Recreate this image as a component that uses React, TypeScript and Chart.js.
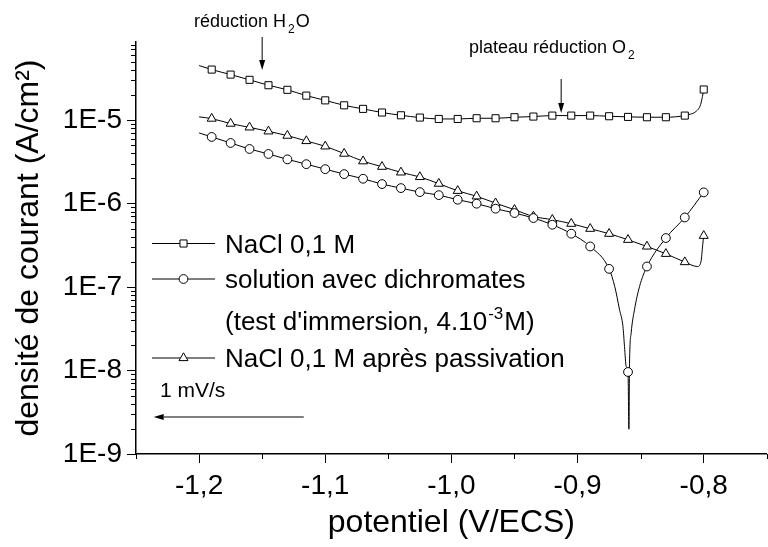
import React, { useEffect, useRef } from "react";
import { Chart, registerables } from "chart.js";

Chart.register(...registerables);

const FONT = "'Liberation Sans', Arial, Helvetica, sans-serif";

// ---- axes ----
const X_MIN = -1.25;
const X_MAX = -0.75;
const xMajorTicks = [-1.2, -1.1, -1.0, -0.9, -0.8];
const xMinorTicks = [-1.25, -1.15, -1.05, -0.95, -0.85, -0.75];
const Y_MIN = 1e-9;
const Y_MAX = 8.6e-5;
const yDecadeTicks = [1e-9, 1e-8, 1e-7, 1e-6, 1e-5];
const yMinorMultipliers = [2, 3, 4, 5, 6, 7, 8, 9];

const xTitle = "potentiel (V/ECS)";
const yTitle = "densité de courant (A/cm²)";

// ---- series ----
const seriesLabels = [
  "NaCl 0,1 M",
  "solution avec dichromates",
  "NaCl 0,1 M après passivation",
];

// markers are shown every 15 mV, from -1.19 V to -0.80 V
const MARKER_STEP = 0.015;
const MARKER_ORIGIN = -0.8;
const MARKER_FIRST = -1.19;

const naclE = [
  -1.2, -1.19, -1.175, -1.16, -1.145, -1.13, -1.115, -1.1, -1.085, -1.07,
  -1.055, -1.04, -1.025, -1.01, -0.995, -0.98, -0.965, -0.95, -0.935, -0.92,
  -0.905, -0.89, -0.875, -0.86, -0.845, -0.83, -0.815, -0.812, -0.806, -0.8025,
  -0.801, -0.8,
];
const naclI = [
  4.49e-5, 4.02e-5, 3.5e-5, 3.03e-5, 2.61e-5, 2.3e-5, 1.96e-5, 1.72e-5, 1.5e-5,
  1.36e-5, 1.23e-5, 1.14e-5, 1.07e-5, 1.03e-5, 1.03e-5, 1.05e-5, 1.05e-5,
  1.08e-5, 1.1e-5, 1.13e-5, 1.13e-5, 1.13e-5, 1.11e-5, 1.09e-5, 1.08e-5,
  1.08e-5, 1.13e-5, 1.16e-5, 1.27e-5, 1.53e-5, 1.92e-5, 2.32e-5,
];

const dichroE = [
  -1.2, -1.19, -1.175, -1.16, -1.145, -1.13, -1.115, -1.1, -1.085, -1.07,
  -1.055, -1.04, -1.025, -1.01, -0.995, -0.98, -0.965, -0.95, -0.935, -0.92,
  -0.905, -0.89, -0.875, -0.8705, -0.8667, -0.864, -0.8628, -0.8614, -0.86,
  -0.8593, -0.8588, -0.8575, -0.8549, -0.8509, -0.845, -0.83, -0.815, -0.8,
];
const dichroI = [
  7.0e-6, 6.27e-6, 5.31e-6, 4.5e-6, 3.92e-6, 3.38e-6, 2.96e-6, 2.58e-6, 2.25e-6,
  1.98e-6, 1.71e-6, 1.53e-6, 1.37e-6, 1.26e-6, 1.11e-6, 9.95e-7, 8.67e-7,
  7.69e-7, 6.7e-7, 5.57e-7, 4.35e-7, 3.06e-7, 1.65e-7, 1.01e-7, 5.33e-8,
  3.36e-8, 1.94e-8, 1.11e-8, 9.6e-9, 1.98e-9, 1.22e-8, 2.82e-8, 5.33e-8,
  1.01e-7, 1.76e-7, 3.86e-7, 6.81e-7, 1.36e-6,
];

const passE = [
  -1.2, -1.19, -1.175, -1.16, -1.145, -1.13, -1.115, -1.1, -1.085, -1.07,
  -1.055, -1.04, -1.025, -1.01, -0.995, -0.98, -0.965, -0.95, -0.935, -0.92,
  -0.905, -0.89, -0.875, -0.86, -0.845, -0.83, -0.815, -0.805, -0.8022,
  -0.8008, -0.8,
];
const passI = [
  1.09e-5, 1.04e-5, 9.06e-6, 8.17e-6, 7.32e-6, 6.5e-6, 5.61e-6, 4.84e-6,
  3.96e-6, 3.21e-6, 2.76e-6, 2.36e-6, 2.08e-6, 1.73e-6, 1.42e-6, 1.22e-6,
  1.01e-6, 8.43e-7, 7.0e-7, 6.4e-7, 5.73e-7, 4.99e-7, 4.35e-7, 3.68e-7,
  3.06e-7, 2.5e-7, 1.99e-7, 1.76e-7, 2.0e-7, 3.21e-7, 4.11e-7,
];

function isMarker(e: number): boolean {
  if (e < MARKER_FIRST - 1e-6) return false;
  const k = (e - MARKER_ORIGIN) / MARKER_STEP;
  return Math.abs(k - Math.round(k)) < 0.01;
}

function toPoints(E: number[], I: number[]) {
  return E.map((e, i) => ({ x: e, y: I[i] }));
}

type Style = "rect" | "circle" | "triangle";
const RADIUS: Record<Style, number> = { rect: 5, circle: 4.4, triangle: 5.2 };

function drawMarker(ctx: CanvasRenderingContext2D, style: Style, x: number, y: number) {
  const r = RADIUS[style];
  ctx.beginPath();
  if (style === "rect") {
    const s = Math.SQRT1_2 * r;
    ctx.rect(x - s, y - s, 2 * s, 2 * s);
  } else if (style === "circle") {
    ctx.arc(x, y, r, 0, Math.PI * 2);
  } else {
    const h = r * Math.sin(Math.PI / 3);
    ctx.moveTo(x, y - r);
    ctx.lineTo(x + h, y + r / 2);
    ctx.lineTo(x - h, y + r / 2);
    ctx.closePath();
  }
  ctx.fillStyle = "#fff";
  ctx.fill();
  ctx.strokeStyle = "#000";
  ctx.lineWidth = 1;
  ctx.stroke();
}

function drawArrow(
  ctx: CanvasRenderingContext2D,
  x1: number, y1: number, x2: number, y2: number,
  len = 10, half = 3
) {
  const a = Math.atan2(y2 - y1, x2 - x1);
  const c = Math.cos(a), s = Math.sin(a);
  const bx = x2 - len * c, by = y2 - len * s;
  ctx.beginPath();
  ctx.moveTo(x1, y1);
  ctx.lineTo(bx, by);
  ctx.strokeStyle = "#000";
  ctx.lineWidth = 1;
  ctx.stroke();
  ctx.beginPath();
  ctx.moveTo(x2, y2);
  ctx.lineTo(bx - half * s, by + half * c);
  ctx.lineTo(bx + half * s, by - half * c);
  ctx.closePath();
  ctx.fillStyle = "#000";
  ctx.fill();
}

type Part = { t: string; size: number; dy?: number; gap?: number };
function drawRich(ctx: CanvasRenderingContext2D, parts: Part[], x: number, y: number) {
  let cx = x;
  ctx.fillStyle = "#000";
  ctx.textBaseline = "alphabetic";
  ctx.textAlign = "left";
  for (const p of parts) {
    cx += p.gap || 0;
    ctx.font = `${p.size}px ${FONT}`;
    ctx.fillText(p.t, cx, y + (p.dy || 0));
    cx += ctx.measureText(p.t).width;
  }
}

const overlayPlugin = {
  id: "overlay",
  afterDraw(chart: any) {
    const ctx: CanvasRenderingContext2D = chart.ctx;
    const xs = chart.scales.x;
    const ys = chart.scales.y;
    const area = chart.chartArea;
    ctx.save();

    // minor ticks
    ctx.strokeStyle = "#000";
    ctx.lineWidth = 1;
    ctx.beginPath();
    for (const v of xMinorTicks) {
      const px = Math.round(xs.getPixelForValue(v)) + 0.5;
      ctx.moveTo(px, area.bottom);
      ctx.lineTo(px, area.bottom + 5);
    }
    for (const d of yDecadeTicks) {
      for (const m of yMinorMultipliers) {
        const v = d * m;
        if (v > Y_MAX) continue;
        const py = Math.round(ys.getPixelForValue(v)) + 0.5;
        ctx.moveTo(area.left - 5, py);
        ctx.lineTo(area.left, py);
      }
    }
    ctx.stroke();

    // annotations
    drawRich(ctx, [
      { t: "réduction H", size: 18 },
      { t: "2", size: 12, dy: 6, gap: 2 },
      { t: "O", size: 18, gap: 1 },
    ], 194, 27);
    const ax1 = xs.getPixelForValue(-1.15);
    drawArrow(ctx, ax1, 37, ax1, 70);

    drawRich(ctx, [
      { t: "plateau réduction O", size: 18 },
      { t: "2", size: 12, dy: 6, gap: 2 },
    ], 469, 53);
    const ax2 = xs.getPixelForValue(-0.913);
    drawArrow(ctx, ax2, 79, ax2, 113);

    drawRich(ctx, [{ t: "1 mV/s", size: 21 }], 160, 397);
    drawArrow(ctx, xs.getPixelForValue(-1.117), 417, xs.getPixelForValue(-1.236), 417, 10, 3);

    // legend
    const rows: { style: Style | null; cy: number; base: number; parts: Part[] }[] = [
      { style: "rect", cy: 243.5, base: 252.8, parts: [{ t: seriesLabels[0], size: 26 }] },
      { style: "circle", cy: 279, base: 288.3, parts: [{ t: seriesLabels[1], size: 26 }] },
      {
        style: null, cy: 321, base: 330,
        parts: [
          { t: "(test d'immersion, 4.10", size: 26 },
          { t: "-3", size: 17, dy: -11, gap: 1 },
          { t: "M)", size: 26, gap: 1 },
        ],
      },
      { style: "triangle", cy: 358, base: 367, parts: [{ t: seriesLabels[2], size: 26 }] },
    ];
    for (const r of rows) {
      if (r.style) {
        ctx.beginPath();
        ctx.moveTo(152, r.cy);
        ctx.lineTo(215, r.cy);
        ctx.strokeStyle = "#000";
        ctx.lineWidth = 1;
        ctx.stroke();
        drawMarker(ctx, r.style, 183.5, r.cy);
      }
      drawRich(ctx, r.parts, 225, r.base);
    }
    ctx.restore();
  },
};

export default function App() {
  const ref = useRef<HTMLCanvasElement | null>(null);

  useEffect(() => {
    if (!ref.current) return;
    const mk = (label: string, E: number[], I: number[], style: Style) => ({
      label,
      data: toPoints(E, I),
      borderColor: "#000",
      borderWidth: 1,
      backgroundColor: "#fff",
      pointStyle: style,
      pointBackgroundColor: "#fff",
      pointBorderColor: "#000",
      pointBorderWidth: 1,
      pointRadius: (c: any) => (isMarker(E[c.dataIndex]) ? RADIUS[style] : 0),
      pointHoverRadius: 0,
      cubicInterpolationMode: "monotone" as const,
      fill: false,
    });

    const chart = new Chart(ref.current, {
      type: "line",
      data: {
        datasets: [
          mk(seriesLabels[0], naclE, naclI, "rect"),
          mk(seriesLabels[1], dichroE, dichroI, "circle"),
          mk(seriesLabels[2], passE, passI, "triangle"),
        ],
      },
      options: {
        animation: false,
        responsive: false,
        devicePixelRatio: 1,
        layout: { padding: { left: 0, right: 0, top: 42, bottom: 0 } },
        plugins: {
          legend: { display: false },
          tooltip: { enabled: false },
        },
        scales: {
          x: {
            type: "linear",
            min: X_MIN,
            max: X_MAX,
            afterBuildTicks: (s: any) => {
              s.ticks = xMajorTicks.map((v) => ({ value: v }));
            },
            afterFit: (s: any) => {
              s.height = 93;
            },
            ticks: {
              autoSkip: false,
              maxRotation: 0,
              color: "#000",
              padding: 6,
              font: { family: FONT, size: 28 },
              callback: (v: any) => Number(v).toFixed(1).replace(".", ","),
            },
            grid: {
              display: true,
              drawOnChartArea: false,
              drawTicks: true,
              tickLength: 9,
              tickColor: "#000",
              tickWidth: 1,
            },
            border: { display: true, color: "#000", width: 1.5 },
            title: {
              display: true,
              text: xTitle,
              color: "#000",
              font: { family: FONT, size: 32 },
              padding: { top: 0, bottom: 5 },
            },
          },
          y: {
            type: "logarithmic",
            min: Y_MIN,
            max: Y_MAX,
            afterBuildTicks: (s: any) => {
              s.ticks = yDecadeTicks.map((v) => ({ value: v, major: true }));
            },
            afterFit: (s: any) => {
              s.width = 136;
            },
            ticks: {
              autoSkip: false,
              color: "#000",
              padding: 5,
              font: { family: FONT, size: 28 },
              callback: (v: any) => "1E" + Math.round(Math.log10(Number(v))),
            },
            grid: {
              display: true,
              drawOnChartArea: false,
              drawTicks: true,
              tickLength: 9,
              tickColor: "#000",
              tickWidth: 1,
            },
            border: { display: true, color: "#000", width: 1.5 },
            title: {
              display: true,
              text: yTitle,
              color: "#000",
              font: { family: FONT, size: 32 },
              padding: { top: 10, bottom: 0 },
            },
          },
        },
      },
      plugins: [overlayPlugin],
    } as any);
    return () => chart.destroy();
  }, []);

  return (
    <div
      style={{
        position: "fixed",
        left: 0,
        top: 0,
        width: 768,
        height: 547,
        overflow: "hidden",
        background: "#fff",
      }}
    >
      <canvas
        ref={ref}
        width={773}
        height={547}
        style={{ display: "block", width: 773, height: 547 }}
      />
    </div>
  );
}
